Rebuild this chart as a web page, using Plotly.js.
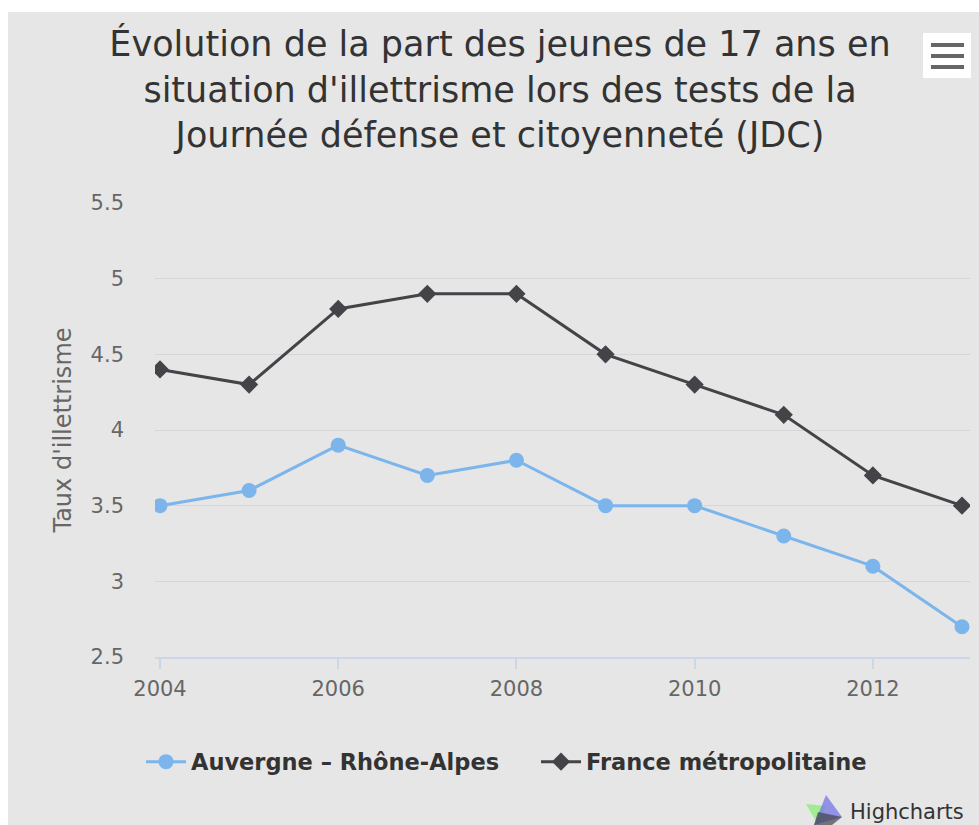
<!DOCTYPE html>
<html>
<head>
<meta charset="utf-8">
<script src="https://cdn.plot.ly/plotly-3.0.1.min.js"></script>
<style>
  html, body { margin: 0; padding: 0; background: #ffffff; }
  #chart { position: absolute; left: 8px; top: 12px; width: 971px; height: 813px; }
</style>
</head>
<body>
<div id="chart"></div>
<script>
const years = [2004, 2005, 2006, 2007, 2008, 2009, 2010, 2011, 2012, 2013];
const auvergne = [3.5, 3.6, 3.9, 3.7, 3.8, 3.5, 3.5, 3.3, 3.1, 2.7];
const france = [4.4, 4.3, 4.8, 4.9, 4.9, 4.5, 4.3, 4.1, 3.7, 3.5];
const seriesNames = ["Auvergne – Rhône-Alpes", "France métropolitaine"];
const titleText = "Évolution de la part des jeunes de 17 ans en<br>situation d'illettrisme lors des tests de la<br>Journée défense et citoyenneté (JDC)";
const yTitle = "Taux d'illettrisme";

// page-pixel to paper helpers (plot area spans page x 155..970, y 203..657)
const px = x => (x - 155) / 815;
const py = y => (657 - y) / 454;
const cy = y => (825 - y) / 813;   // page y -> container y
const cx = x => (x - 8) / 971;     // page x -> container x

const FONT = '"DejaVu Sans", Verdana, sans-serif';

const traces = [
  {
    x: years, y: auvergne, name: seriesNames[0], type: 'scatter', mode: 'lines+markers',
    line: { color: '#7cb5ec', width: 3 },
    marker: { color: '#7cb5ec', size: 15, symbol: 'circle' }
  },
  {
    x: years, y: france, name: seriesNames[1], type: 'scatter', mode: 'lines+markers',
    line: { color: '#434348', width: 3 },
    marker: { color: '#434348', size: 14, symbol: 'diamond' }
  }
];

const layout = {
  width: 971, height: 813,
  paper_bgcolor: '#e6e6e6', plot_bgcolor: '#e6e6e6',
  margin: { l: 147, r: 9, t: 191, b: 168 },
  font: { family: FONT, color: '#666666' },
  title: {
    text: titleText,
    font: { family: FONT, size: 35, color: '#333333' },
    xref: 'container', x: cx(500), xanchor: 'center',
    yref: 'container', y: cy(56), yanchor: 'top'
  },
  xaxis: {
    range: [2003.944, 2013.09],
    dtick: 2, tick0: 2004,
    showgrid: false, zeroline: false,
    showline: true, linecolor: '#ccd6eb', linewidth: 2,
    ticks: 'outside', ticklen: 10, tickcolor: '#ccd6eb', tickwidth: 2,
    tickfont: { family: FONT, size: 21, color: '#666666' },
    ticklabelstandoff: 2,
    fixedrange: true
  },
  yaxis: {
    range: [2.5, 5.5],
    dtick: 0.5, tick0: 2.5,
    showgrid: true, gridcolor: '#d6d6d6', gridwidth: 1,
    zeroline: false, showline: false,
    ticks: '', tickfont: { family: FONT, size: 21, color: '#666666' },
    ticklabelstandoff: 30,
    title: { text: yTitle, font: { family: FONT, size: 24, color: '#666666' }, standoff: 12 },
    fixedrange: true
  },
  showlegend: true,
  legend: {
    orientation: 'h',
    xref: 'container', x: cx(141), xanchor: 'left',
    yref: 'container', y: cy(762), yanchor: 'middle',
    font: { family: FONT, size: 22.5, color: '#333333', weight: 'bold' },
    itemwidth: 40,
    entrywidth: 340, entrywidthmode: 'pixels',
    bgcolor: 'rgba(0,0,0,0)'
  },
  shapes: [
    // export menu button
    { type: 'rect', xref: 'paper', yref: 'paper', x0: px(923), x1: px(971), y0: py(33), y1: py(78),
      fillcolor: '#ffffff', line: { width: 0 } },
    { type: 'line', xref: 'paper', yref: 'paper', x0: px(931), x1: px(964), y0: py(45), y1: py(45),
      line: { color: '#666666', width: 4 } },
    { type: 'line', xref: 'paper', yref: 'paper', x0: px(931), x1: px(964), y0: py(56), y1: py(56),
      line: { color: '#666666', width: 4 } },
    { type: 'line', xref: 'paper', yref: 'paper', x0: px(931), x1: px(964), y0: py(67), y1: py(67),
      line: { color: '#666666', width: 4 } },
    // Highcharts logo approximations
    { type: 'path', xref: 'paper', yref: 'paper',
      path: `M ${px(806)} ${py(804)} L ${px(826)} ${py(806)} L ${px(818)} ${py(825)} Z`,
      fillcolor: 'rgba(144,237,125,0.8)', line: { width: 0 } },
    { type: 'path', xref: 'paper', yref: 'paper',
      path: `M ${px(826)} ${py(795)} L ${px(842)} ${py(817)} L ${px(814)} ${py(825)} Z`,
      fillcolor: 'rgba(124,124,230,0.8)', line: { width: 0 } },
    { type: 'path', xref: 'paper', yref: 'paper',
      path: `M ${px(818)} ${py(812)} L ${px(842)} ${py(817)} L ${px(832)} ${py(825)} L ${px(814)} ${py(825)} Z`,
      fillcolor: 'rgba(67,67,72,0.7)', line: { width: 0 } }
  ],
  annotations: [
    { text: 'Highcharts', xref: 'paper', yref: 'paper', x: px(966), y: py(812),
      xanchor: 'right', yanchor: 'middle', showarrow: false,
      font: { family: FONT, size: 21, color: '#333333' } }
  ]
};

Plotly.newPlot('chart', traces, layout, { displayModeBar: false, responsive: false });
</script>
</body>
</html>
